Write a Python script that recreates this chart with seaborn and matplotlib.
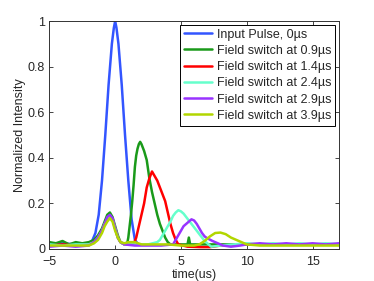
import numpy as np
import pandas as pd
import matplotlib
matplotlib.use("Agg")
import matplotlib.pyplot as plt
import seaborn as sns

# time axis (us) and normalized intensity
t_input = [-5, -4, -3, -2, -1.75, -1.5, -1.25, -1.0, -0.75, -0.5, -0.25, -0.1, 0, 0.1, 0.25,
           0.5, 0.75, 1.0, 1.25, 1.5, 1.75, 2.0]
y_input = [0.02, 0.025, 0.02, 0.025, 0.035, 0.07, 0.15, 0.3, 0.5, 0.72, 0.9, 0.97, 1.0, 0.97,
           0.9, 0.72, 0.5, 0.3, 0.13, 0.04, 0.02, 0.02]

t_09 = [-5, -4.5, -4, -3.5, -3, -2.5, -2, -1.6, -1.3, -1.0, -0.8, -0.6, -0.4, -0.2, 0, 0.2,
        0.4, 0.7, 0.9, 1.0, 1.1, 1.2, 1.3, 1.4, 1.5, 1.6, 1.7, 1.8, 1.9, 2.0, 2.2, 2.4, 2.6,
        2.8, 3.0, 3.2, 3.4, 3.6, 3.8, 4.0, 4.2, 5.0, 5.5, 5.6, 5.7, 6.5, 8, 10, 12, 14, 17]
y_09 = [0.03, 0.025, 0.035, 0.02, 0.03, 0.025, 0.03, 0.04, 0.06, 0.09, 0.12, 0.15, 0.16, 0.14,
        0.1, 0.06, 0.03, 0.02, 0.02, 0.05, 0.1, 0.15, 0.21, 0.28, 0.36, 0.41, 0.44, 0.46, 0.47,
        0.46, 0.43, 0.39, 0.31, 0.25, 0.2, 0.15, 0.11, 0.08, 0.05, 0.03, 0.02, 0.02, 0.02, 0.05,
        0.02, 0.02, 0.02, 0.02, 0.02, 0.02, 0.02]

t_14 = [-5, -4, -3, -2, -1.6, -1.3, -1.0, -0.8, -0.6, -0.4, -0.2, 0, 0.2, 0.4, 0.7, 1.0, 1.4,
        1.6, 1.8, 2.0, 2.2, 2.4, 2.6, 2.8, 3.0, 3.2, 3.4, 3.6, 3.8, 4.0, 4.2, 4.4, 4.6, 4.8,
        5.5, 6.5, 7.2, 8, 10, 12, 14, 17]
y_14 = [0.015, 0.02, 0.015, 0.02, 0.03, 0.05, 0.08, 0.11, 0.13, 0.14, 0.13, 0.09, 0.05, 0.03,
        0.02, 0.02, 0.02, 0.05, 0.1, 0.15, 0.2, 0.27, 0.31, 0.34, 0.32, 0.3, 0.27, 0.24, 0.21,
        0.16, 0.11, 0.07, 0.04, 0.02, 0.01, 0.008, 0.008, 0.015, 0.02, 0.02, 0.02, 0.02]

t_24 = [-5, -4, -3, -2, -1.6, -1.3, -1.0, -0.8, -0.6, -0.4, -0.2, 0, 0.2, 0.4, 0.7, 1.5, 2.5,
        3.2, 3.4, 3.6, 3.8, 4.0, 4.2, 4.4, 4.6, 4.8, 5.0, 5.2, 5.4, 5.6, 5.8, 6.0, 6.2, 6.4,
        6.6, 6.8, 7.0, 7.3, 8, 9, 10, 11, 12, 13, 14, 15, 16, 17]
y_24 = [0.02, 0.015, 0.02, 0.02, 0.03, 0.05, 0.08, 0.11, 0.13, 0.14, 0.13, 0.09, 0.05, 0.03,
        0.02, 0.02, 0.02, 0.03, 0.04, 0.06, 0.08, 0.1, 0.12, 0.145, 0.16, 0.17, 0.165, 0.155,
        0.14, 0.125, 0.11, 0.095, 0.08, 0.065, 0.05, 0.035, 0.025, 0.01, 0.015, 0.02, 0.025,
        0.02, 0.025, 0.02, 0.025, 0.02, 0.025, 0.02]

t_29 = [-5, -4, -3, -2, -1.6, -1.3, -1.0, -0.8, -0.6, -0.4, -0.2, 0, 0.2, 0.4, 0.7, 1.5, 2.5,
        3.5, 4.4, 4.6, 4.8, 5.0, 5.2, 5.4, 5.6, 5.8, 6.0, 6.2, 6.4, 6.6, 6.8, 7.0, 7.4, 7.8,
        8.2, 8.8, 9.5, 10, 11, 12, 13, 14, 15, 16, 17]
y_29 = [0.01, 0.015, 0.01, 0.015, 0.03, 0.05, 0.08, 0.11, 0.14, 0.15, 0.135, 0.09, 0.05, 0.03,
        0.02, 0.015, 0.015, 0.015, 0.02, 0.04, 0.06, 0.08, 0.1, 0.11, 0.12, 0.13, 0.125, 0.11,
        0.09, 0.07, 0.055, 0.047, 0.035, 0.025, 0.015, 0.01, 0.015, 0.02, 0.025, 0.02, 0.025,
        0.02, 0.025, 0.02, 0.025]

t_39 = [-5, -4, -3, -2, -1.6, -1.3, -1.0, -0.8, -0.6, -0.4, -0.2, 0, 0.2, 0.4, 0.7, 1.0, 1.5,
        2.0, 3, 4, 5, 6, 6.4, 6.8, 7.2, 7.6, 8.0, 8.4, 8.8, 9.2, 9.6, 10, 11, 12, 13, 14, 15,
        16, 17]
y_39 = [0.015, 0.015, 0.015, 0.015, 0.025, 0.04, 0.07, 0.1, 0.12, 0.135, 0.12, 0.08, 0.05,
        0.03, 0.025, 0.03, 0.03, 0.02, 0.02, 0.02, 0.015, 0.015, 0.02, 0.035, 0.055, 0.07,
        0.072, 0.065, 0.05, 0.04, 0.03, 0.02, 0.015, 0.015, 0.015, 0.015, 0.015, 0.015, 0.015]

labels = ["Input Pulse, 0µs", "Field switch at 0.9µs", "Field switch at 1.4µs",
          "Field switch at 2.4µs", "Field switch at 2.9µs", "Field switch at 3.9µs"]
colors = ["#3355ff", "#1a9a1a", "#ff0000", "#66ffcc", "#9933ff", "#b2d600"]

series = [(t_input, y_input), (t_09, y_09), (t_14, y_14), (t_24, y_24), (t_29, y_29), (t_39, y_39)]

sns.set_style("ticks")
plt.rcParams["font.family"] = ["Liberation Sans", "DejaVu Sans"]
plt.rcParams["font.size"] = 9

fig = plt.figure(figsize=(3.74, 2.81), dpi=100)
ax = fig.add_axes([0.132, 0.114, 0.774, 0.811])

for (t, y), lab, col in zip(series, labels, colors):
    df = pd.DataFrame({"time": t, "intensity": y})
    sns.lineplot(data=df, x="time", y="intensity", ax=ax, color=col, lw=1.8,
                 label=lab, estimator=None, sort=False)

ax.set_xlim(-5, 17)
ax.set_ylim(0, 1)
ax.set_xticks([-5, 0, 5, 10, 15])
ax.set_yticks([0, 0.2, 0.4, 0.6, 0.8, 1])
ax.set_yticklabels(["0", "0.2", "0.4", "0.6", "0.8", "1"])
ax.set_xticklabels(["\u22125", "0", "5", "10", "15"])
ax.set_xlabel("time(us)", fontsize=9, labelpad=1)
ax.set_ylabel("Normalized Intensity", fontsize=9, labelpad=1)
ax.tick_params(axis="both", direction="in", length=3, width=0.6, top=True, right=True,
               labelsize=9)
ax.tick_params(axis="x", pad=5)
ax.tick_params(axis="y", pad=3)
for s in ax.spines.values():
    s.set_visible(True)
    s.set_linewidth(0.7)
    s.set_color("#333333")

leg = ax.legend(loc="upper right", fancybox=False, framealpha=1, edgecolor="black",
                fontsize=9, handlelength=2.3, labelspacing=0.34, borderpad=0.3,
                handletextpad=0.35, borderaxespad=0.3)
leg.get_frame().set_linewidth(0.7)

fig.savefig("out.png", dpi=100)
